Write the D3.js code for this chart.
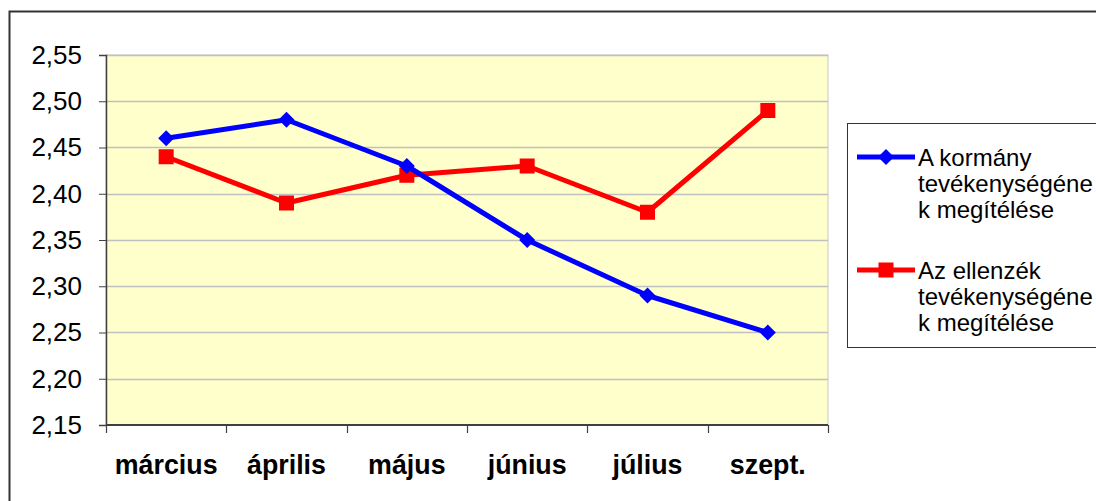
<!DOCTYPE html>
<html>
<head>
<meta charset="utf-8">
<script src="https://cdn.jsdelivr.net/npm/d3@7"></script>
<style>
html,body{margin:0;padding:0;background:#fff;}
svg{display:block;}
text{font-family:"Liberation Sans",Arial,sans-serif;}
</style>
</head>
<body>
<svg id="chart" width="1096" height="501"></svg>
<script>
const categories = ["március", "április", "május", "június", "július", "szept."];
const kormany = [2.46, 2.48, 2.43, 2.35, 2.29, 2.25];
const ellenzek = [2.44, 2.39, 2.42, 2.43, 2.38, 2.49];
const seriesNames = [["A kormány", "tevékenységéne", "k megítélése"], ["Az ellenzék", "tevékenységéne", "k megítélése"]];
const yTicks = [2.15, 2.20, 2.25, 2.30, 2.35, 2.40, 2.45, 2.50, 2.55];

const svg = d3.select("#chart");
const L = 106, T = 55, R = 828, B = 425;

// outer border
svg.append("rect").attr("x", 9.5).attr("y", 11.5).attr("width", 1200).attr("height", 600)
  .attr("fill", "none").attr("stroke", "#333").attr("stroke-width", 2);

const x = d3.scaleBand().domain(categories).range([L, R]);
const y = d3.scaleLinear().domain([2.15, 2.55]).range([B, T]);

// plot background
svg.append("rect").attr("x", L).attr("y", T).attr("width", R - L).attr("height", B - T)
  .attr("fill", "#FFFFCC").attr("stroke", "#c8c8c8").attr("stroke-width", 1);

// gridlines
svg.append("g").selectAll("line").data(yTicks.slice(1)).join("line")
  .attr("x1", L).attr("x2", R)
  .attr("y1", d => Math.round(y(d)) + 0.5).attr("y2", d => Math.round(y(d)) + 0.5)
  .attr("stroke", "#c0c0c0").attr("stroke-width", 1.5);

// y axis
const yAxis = d3.axisLeft(y).tickValues(yTicks).tickSize(7).tickPadding(17)
  .tickFormat(d => d3.format(".2f")(d).replace(".", ","));
const gy = svg.append("g").attr("transform", `translate(${L},0)`).call(yAxis);
gy.select(".domain").attr("stroke", "#404040").attr("stroke-width", 1.5);
gy.selectAll(".tick line").attr("stroke", "#404040");
gy.selectAll("text").attr("font-size", 26).attr("fill", "#000")
  .attr("font-family", "'Liberation Sans', Arial, sans-serif");

// x axis with ticks at category boundaries
svg.append("line").attr("x1", L).attr("x2", R).attr("y1", B).attr("y2", B)
  .attr("stroke", "#404040").attr("stroke-width", 2);
const bounds = categories.map(c => x(c)).concat([x(categories[categories.length - 1]) + x.bandwidth()]);
svg.append("g").selectAll("line").data(bounds).join("line")
  .attr("x1", d => Math.round(d) + 0.5).attr("x2", d => Math.round(d) + 0.5)
  .attr("y1", B).attr("y2", B + 8).attr("stroke", "#404040").attr("stroke-width", 1.2);
svg.append("g").selectAll("text").data(categories).join("text")
  .attr("x", d => x(d) + x.bandwidth() / 2).attr("y", 474)
  .attr("text-anchor", "middle").attr("font-size", 26.8).attr("font-weight", "bold")
  .attr("fill", "#000").text(d => d);

const cx = d => x(d) + x.bandwidth() / 2;
const line = d3.line().x(d => cx(d[0])).y(d => y(d[1]));

// red series
const redData = categories.map((c, i) => [c, ellenzek[i]]);
svg.append("path").datum(redData).attr("d", line).attr("fill", "none")
  .attr("stroke", "#FF0000").attr("stroke-width", 5).attr("stroke-linejoin", "round");
svg.append("g").selectAll("rect").data(redData).join("rect")
  .attr("x", d => cx(d[0]) - 7.5).attr("y", d => y(d[1]) - 7.5)
  .attr("width", 15).attr("height", 15).attr("fill", "#FF0000");

// blue series
const blueData = categories.map((c, i) => [c, kormany[i]]);
svg.append("path").datum(blueData).attr("d", line).attr("fill", "none")
  .attr("stroke", "#0000FF").attr("stroke-width", 5).attr("stroke-linejoin", "round");
const diamond = "M0,-8L8,0L0,8L-8,0Z";
svg.append("g").selectAll("path").data(blueData).join("path")
  .attr("transform", d => `translate(${cx(d[0])},${y(d[1])})`)
  .attr("d", diamond).attr("fill", "#0000FF");

// legend
svg.append("rect").attr("x", 847.5).attr("y", 123.5).attr("width", 300).attr("height", 224)
  .attr("fill", "#fff").attr("stroke", "#333").attr("stroke-width", 1);
const legendY = [157, 270];
const colors = ["#0000FF", "#FF0000"];
seriesNames.forEach((lines, i) => {
  const ly = legendY[i];
  svg.append("line").attr("x1", 857).attr("x2", 915).attr("y1", ly).attr("y2", ly)
    .attr("stroke", colors[i]).attr("stroke-width", 5);
  if (i === 0) {
    svg.append("path").attr("transform", `translate(886,${ly})`).attr("d", diamond).attr("fill", colors[i]);
  } else {
    svg.append("rect").attr("x", 878.5).attr("y", ly - 7.5).attr("width", 15).attr("height", 15).attr("fill", colors[i]);
  }
  lines.forEach((t, j) => {
    svg.append("text").attr("x", 918).attr("y", ly + j * 26 + 8.5)
      .attr("font-size", 24).attr("fill", "#000").text(t);
  });
});
</script>
</body>
</html>
